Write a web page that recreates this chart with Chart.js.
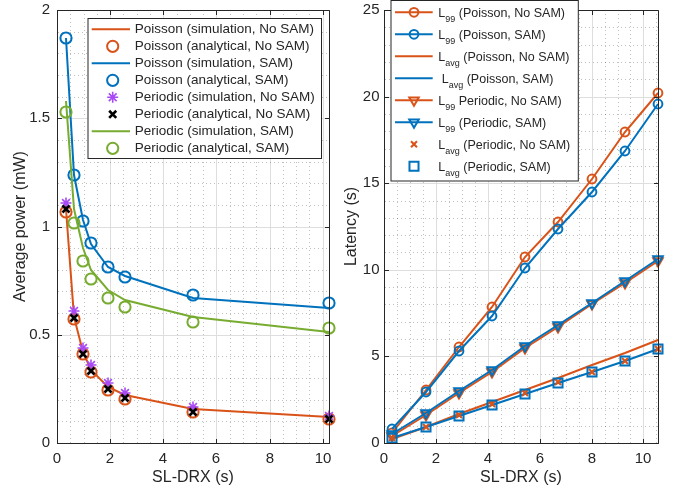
<!DOCTYPE html>
<html><head><meta charset="utf-8">
<script src="https://cdn.jsdelivr.net/npm/chart.js@4/dist/chart.umd.min.js"></script>
<style>
html,body{margin:0;padding:0;background:#fff;}
#wrap{position:relative;width:683px;height:491px;overflow:hidden;background:#fff;}
canvas{position:absolute;top:0;}
#c1{left:0;} #c2{left:340px;}
</style></head><body>
<div id="wrap"><canvas id="c1" width="340" height="491"></canvas><canvas id="c2" width="343" height="491"></canvas></div>
<script>
// ---------- data: left panel (average power) ----------
const powerX = [0.32, 0.64, 0.96, 1.28, 1.92, 2.56, 5.12, 10.24];
const poissonSimNoSam  = [1.08, 0.58, 0.42, 0.335, 0.26, 0.222, 0.158, 0.12];
const poissonAnaNoSam  = [1.065, 0.575, 0.411, 0.329, 0.247, 0.205, 0.144, 0.113];
const poissonSimSam    = [1.87, 1.24, 1.03, 0.92, 0.815, 0.77, 0.67, 0.625];
const poissonAnaSam    = [1.87, 1.239, 1.026, 0.923, 0.815, 0.765, 0.685, 0.646];
const periodicSimNoSam = [1.108, 0.608, 0.441, 0.358, 0.277, 0.231, 0.166, 0.126];
const periodicAnaNoSam = [1.08, 0.577, 0.412, 0.331, 0.249, 0.208, 0.145, 0.112];
const periodicSimSam   = [1.58, 1.08, 0.9, 0.8, 0.705, 0.66, 0.58, 0.512];
const periodicAnaSam   = [1.528, 1.014, 0.842, 0.757, 0.668, 0.628, 0.561, 0.532];
const powerXTicks = [0, 2, 4, 6, 8, 10];
const powerYTicks = [0, 0.5, 1, 1.5, 2];
const powerLegend = [
  'Poisson (simulation, No SAM)', 'Poisson (analytical, No SAM)',
  'Poisson (simulation, SAM)', 'Poisson (analytical, SAM)',
  'Periodic (simulation, No SAM)', 'Periodic (analytical, No SAM)',
  'Periodic (simulation, SAM)', 'Periodic (analytical, SAM)'];

// ---------- data: right panel (latency) ----------
const latencyX = [0.32, 1.6, 2.88, 4.16, 5.44, 6.72, 8.0, 9.28, 10.56];
const l99PoissonNoSam   = [0.55, 3.07, 5.52, 7.85, 10.73, 12.75, 15.25, 17.98, 20.23];
const l99PoissonSam     = [0.81, 2.94, 5.34, 7.35, 10.13, 12.35, 14.48, 16.87, 19.56];
const lavgPoissonNoSam  = [0.25, 0.95, 1.65, 2.35, 3.05, 3.75, 4.5, 5.2, 5.96];
const lavgPoissonSam    = [0.3, 0.9, 1.56, 2.2, 2.84, 3.47, 4.1, 4.71, 5.42];
const l99PeriodicNoSam  = [0.42, 1.62, 2.88, 4.12, 5.46, 6.7, 8.0, 9.25, 10.52];
const l99PeriodicSam    = [0.5, 1.73, 2.98, 4.23, 5.58, 6.79, 8.11, 9.33, 10.62];
const lavgPeriodicNoSam = [0.28, 0.92, 1.6, 2.25, 2.88, 3.5, 4.12, 4.74, 5.45];
const lavgPeriodicSam   = [0.3, 0.9, 1.58, 2.21, 2.84, 3.48, 4.1, 4.71, 5.42];
const latencyXTicks = [0, 2, 4, 6, 8, 10];
const latencyYTicks = [0, 5, 10, 15, 20, 25];
const latencyLegend = [
  'L_{99} (Poisson, No SAM)', 'L_{99} (Poisson, SAM)',
  'L_{avg} (Poisson, No SAM)', ' L_{avg} (Poisson, SAM)',
  'L_{99} Periodic, No SAM)', 'L_{99} (Periodic, SAM)',
  'L_{avg} (Periodic, No SAM)', 'L_{avg} (Periodic, SAM)'];

// ---------- styling ----------
const FONT = "'Liberation Sans', Arial, Helvetica, sans-serif";
const TEXT = '#262626';
const ORANGE = '#D95319', BLUE = '#0072BD', GREEN = '#77AC30', PURPLE = '#A94AF7', BLACK = '#000000';
const NONE = 'rgba(0,0,0,0)';

function minorTicks(max, step) {
  const out = [];
  const n = Math.floor(max / step + 1e-6);
  for (let k = 0; k <= n; k++) out.push({ value: Math.round(k * step * 1e6) / 1e6 });
  return out;
}
function isMajor(v, majors) { return majors.some(m => Math.abs(m - v) < 1e-6); }

function makeAxis(o) {
  return {
    type: 'linear', min: 0, max: o.max, alignToPixels: true,
    afterBuildTicks: s => { s.ticks = minorTicks(o.max, o.minor); },
    afterFit: s => {
      if (o.horizontal) s.height = o.size; else s.width = o.size;
      s.paddingTop = 0; s.paddingBottom = 0; s.paddingLeft = 0; s.paddingRight = 0;
    },
    ticks: { autoSkip: false, maxRotation: 0, minRotation: 0, padding: o.pad, color: TEXT,
      font: { family: FONT, size: 15 },
      callback: v => isMajor(v, o.majors) ? String(v) : '' },
    grid: { drawTicks: false, lineWidth: 1,
      color: c => (c.tick && isMajor(c.tick.value, o.majors)) ? '#dedede' : 'rgba(0,0,0,0.25)' },
    border: { display: true, color: TEXT, width: 1,
      dash: c => (c.type === 'tick' && c.tick && !isMajor(c.tick.value, o.majors)) ? [1, 3] : [] },
    title: { display: true, text: o.title, color: TEXT, font: { family: FONT, size: 16 }, padding: o.titlePad }
  };
}

function pts(xs, ys) { return xs.map((x, i) => ({ x: x, y: ys[i] })); }

function lineDs(xs, ys, color) {
  return { data: pts(xs, ys), showLine: true, borderColor: color, borderWidth: 2, pointRadius: 0,
    tension: 0, clip: false, fill: false };
}
function markDs(xs, ys, color, style, r, bw, rot) {
  return { data: pts(xs, ys), showLine: false, borderColor: color, backgroundColor: NONE,
    pointStyle: style, pointRadius: r, pointBorderWidth: bw, pointBorderColor: color,
    pointBackgroundColor: NONE, pointRotation: rot || 0, clip: false };
}
function lineMarkDs(xs, ys, color, style, r, bw, rot) {
  return { data: pts(xs, ys), showLine: true, borderColor: color, borderWidth: 2, tension: 0,
    clip: false, fill: false, backgroundColor: NONE,
    pointStyle: style, pointRadius: r, pointBorderWidth: bw, pointBorderColor: color,
    pointBackgroundColor: NONE, pointRotation: rot || 0 };
}

function drawMarker(ctx, style, x, y, r, rot) {
  ctx.beginPath();
  if (style === 'circle') {
    ctx.arc(x, y, r, 0, Math.PI * 2); ctx.closePath();
  } else if (style === 'crossRot') {
    const d = r * Math.SQRT1_2;
    ctx.moveTo(x - d, y - d); ctx.lineTo(x + d, y + d);
    ctx.moveTo(x - d, y + d); ctx.lineTo(x + d, y - d);
  } else if (style === 'star') {
    const d = r * Math.SQRT1_2;
    ctx.moveTo(x - r, y); ctx.lineTo(x + r, y);
    ctx.moveTo(x, y - r); ctx.lineTo(x, y + r);
    ctx.moveTo(x - d, y - d); ctx.lineTo(x + d, y + d);
    ctx.moveTo(x - d, y + d); ctx.lineTo(x + d, y - d);
  } else if (style === 'triangle') {
    let a = (rot || 0) * Math.PI / 180;
    for (let i = 0; i < 3; i++) {
      const px = x + Math.sin(a) * r, py = y - Math.cos(a) * r;
      if (i === 0) ctx.moveTo(px, py); else ctx.lineTo(px, py);
      a += 2 * Math.PI / 3;
    }
    ctx.closePath();
  } else if (style === 'rect') {
    const s = r * Math.SQRT1_2;
    ctx.rect(x - s, y - s, 2 * s, 2 * s);
  }
  ctx.stroke();
}

const ap = v => Math.round(v - 0.5) + 0.5;

const boxPlugin = {
  id: 'matlabBox',
  afterDatasetsDraw(chart, args, opts) {
    const { ctx, chartArea: a } = chart;
    const xs = chart.scales.x, ys = chart.scales.y;
    const L = ap(a.left), R = ap(a.right), T = ap(a.top), B = ap(a.bottom);
    ctx.save();
    ctx.strokeStyle = TEXT; ctx.lineWidth = 1; ctx.setLineDash([]);
    ctx.beginPath();
    ctx.moveTo(L, T); ctx.lineTo(R, T); ctx.lineTo(R, B); ctx.lineTo(L, B); ctx.closePath();
    const tl = 4.5;
    opts.xMajor.forEach(v => {
      const p = ap(xs.getPixelForValue(v));
      ctx.moveTo(p, B); ctx.lineTo(p, B - tl);
      ctx.moveTo(p, T); ctx.lineTo(p, T + tl);
    });
    opts.yMajor.forEach(v => {
      const p = ap(ys.getPixelForValue(v));
      ctx.moveTo(L, p); ctx.lineTo(L + tl, p);
      ctx.moveTo(R, p); ctx.lineTo(R - tl, p);
    });
    ctx.stroke();
    ctx.restore();
  }
};

function drawRich(ctx, text, x, base, size, subSize, subDrop) {
  const parts = text.split(/(_\{[^}]*\})/);
  let cx = x;
  parts.forEach(p => {
    if (!p) return;
    const m = p.match(/^_\{([^}]*)\}$/);
    if (m) {
      ctx.font = subSize + 'px ' + FONT;
      ctx.fillText(m[1], cx, base + subDrop);
      cx += ctx.measureText(m[1]).width;
    } else {
      ctx.font = size + 'px ' + FONT;
      ctx.fillText(p, cx, base);
      cx += ctx.measureText(p).width;
    }
  });
}

const legendPlugin = {
  id: 'boxLegend',
  afterDraw(chart, args, o) {
    const ctx = chart.ctx;
    ctx.save();
    ctx.setLineDash([]);
    ctx.fillStyle = '#ffffff';
    ctx.fillRect(o.x, o.y, o.w, o.h);
    ctx.strokeStyle = TEXT; ctx.lineWidth = 1;
    ctx.strokeRect(o.x, o.y, o.w, o.h);
    chart.data.datasets.forEach((ds, i) => {
      const y = o.y0 + i * o.dy;
      ctx.lineCap = 'butt';
      if (ds.showLine) {
        ctx.strokeStyle = ds.borderColor; ctx.lineWidth = ds.borderWidth;
        ctx.beginPath(); ctx.moveTo(o.lx1, y); ctx.lineTo(o.lx2, y); ctx.stroke();
      }
      if (ds.pointRadius > 0) {
        ctx.strokeStyle = ds.pointBorderColor; ctx.lineWidth = ds.pointBorderWidth;
        drawMarker(ctx, ds.pointStyle, o.mx, y, ds.pointRadius, ds.pointRotation);
      }
      ctx.fillStyle = TEXT;
      ctx.textAlign = 'left';
      if (o.rich) {
        ctx.textBaseline = 'alphabetic';
        drawRich(ctx, o.labels[i], o.tx, y + o.baseOff, o.font, o.subFont, o.subDrop);
      } else {
        ctx.textBaseline = 'middle';
        ctx.font = o.font + 'px ' + FONT;
        ctx.fillText(o.labels[i], o.tx, y);
      }
    });
    ctx.restore();
  }
};

// ---------- left chart ----------
new Chart(document.getElementById('c1'), {
  type: 'scatter',
  data: { datasets: [
    lineDs(powerX, poissonSimNoSam, ORANGE),
    markDs(powerX, poissonAnaNoSam, ORANGE, 'circle', 5.6, 2),
    lineDs(powerX, poissonSimSam, BLUE),
    markDs(powerX, poissonAnaSam, BLUE, 'circle', 5.6, 2),
    markDs(powerX, periodicSimNoSam, PURPLE, 'star', 5.5, 1.6),
    markDs(powerX, periodicAnaNoSam, BLACK, 'crossRot', 5, 2.6),
    lineDs(powerX, periodicSimSam, GREEN),
    markDs(powerX, periodicAnaSam, GREEN, 'circle', 5.6, 2)
  ].map((d, i) => Object.assign(d, { order: -i, label: powerLegend[i] })) },
  options: {
    responsive: false, animation: false, events: [],
    layout: { padding: { left: 0, right: 11, top: 10, bottom: 0 } },
    scales: {
      x: makeAxis({ max: 10.24, minor: 0.5, majors: powerXTicks, horizontal: true, size: 48, pad: 6.4,
        title: 'SL-DRX (s)', titlePad: { top: 0, bottom: 3.4 } }),
      y: makeAxis({ max: 2, minor: 0.1, majors: powerYTicks, horizontal: false, size: 57, pad: 7,
        title: 'Average power (mW)', titlePad: { top: 11.4, bottom: 0 } })
    },
    plugins: {
      legend: { display: false }, tooltip: { enabled: false },
      matlabBox: { xMajor: powerXTicks, yMajor: powerYTicks },
      boxLegend: { labels: powerLegend, x: 88, y: 18.5, w: 233.5, h: 140, y0: 29.3, dy: 17,
        lx1: 91.7, lx2: 130, mx: 112.7, tx: 134.7, font: 13.5, rich: false }
    }
  },
  plugins: [boxPlugin, legendPlugin]
});

// ---------- right chart ----------
new Chart(document.getElementById('c2'), {
  type: 'scatter',
  data: { datasets: [
    lineMarkDs(latencyX, l99PoissonNoSam, ORANGE, 'circle', 4.4, 2),
    lineMarkDs(latencyX, l99PoissonSam, BLUE, 'circle', 4.4, 2),
    lineDs(latencyX, lavgPoissonNoSam, ORANGE),
    lineDs(latencyX, lavgPoissonSam, BLUE),
    lineMarkDs(latencyX, l99PeriodicNoSam, ORANGE, 'triangle', 5.5, 2, 180),
    lineMarkDs(latencyX, l99PeriodicSam, BLUE, 'triangle', 5.5, 2, 180),
    markDs(latencyX, lavgPeriodicNoSam, ORANGE, 'crossRot', 4.2, 2),
    markDs(latencyX, lavgPeriodicSam, BLUE, 'rect', 6.4, 2)
  ].map((d, i) => Object.assign(d, { order: -i, label: latencyLegend[i] })) },
  options: {
    responsive: false, animation: false, events: [],
    layout: { padding: { left: 0, right: 25, top: 10, bottom: 0 } },
    scales: {
      x: makeAxis({ max: 10.56, minor: 0.5, majors: latencyXTicks, horizontal: true, size: 48, pad: 6.4,
        title: 'SL-DRX (s)', titlePad: { top: 0, bottom: 3.4 } }),
      y: makeAxis({ max: 25, minor: 1, majors: latencyYTicks, horizontal: false, size: 44, pad: 4.5,
        title: 'Latency (s)', titlePad: { top: 2.4, bottom: 0 } })
    },
    plugins: {
      legend: { display: false }, tooltip: { enabled: false },
      matlabBox: { xMajor: latencyXTicks, yMajor: latencyYTicks },
      boxLegend: { labels: latencyLegend, x: 51, y: 0.5, w: 187.3, h: 180.5, y0: 12.3, dy: 22,
        lx1: 55, lx2: 92.7, mx: 74, tx: 98.3, font: 12.5, subFont: 9, baseOff: 4.3, subDrop: 5.5, rich: true }
    }
  },
  plugins: [boxPlugin, legendPlugin]
});
</script>
</body></html>
